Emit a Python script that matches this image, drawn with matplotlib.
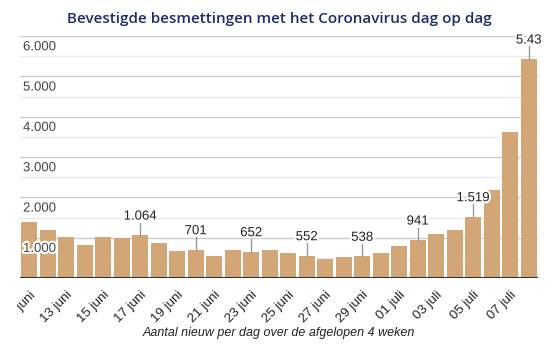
import matplotlib.pyplot as plt
import matplotlib.patheffects as pe
from matplotlib.transforms import Bbox, TransformedBbox, blended_transform_factory
import numpy as np

# dagelijkse nieuwe besmettingen, 11 juni t/m 08 juli
dagen = ['11 juni', '12 juni', '13 juni', '14 juni', '15 juni', '16 juni', '17 juni',
         '18 juni', '19 juni', '20 juni', '21 juni', '22 juni', '23 juni', '24 juni',
         '25 juni', '26 juni', '27 juni', '28 juni', '29 juni', '30 juni', '01 juli',
         '02 juli', '03 juli', '04 juli', '05 juli', '06 juli', '07 juli', '08 juli']
aantal = [1380, 1200, 1025, 826, 1025, 1000, 1064, 876, 680, 701, 553, 690, 652, 690,
          628, 552, 480, 530, 538, 628, 800, 941, 1100, 1200, 1519, 2190, 3630, 5430]
label_idx = [6, 9, 12, 15, 18, 21, 24, 27]
label_txt = ['1.064', '701', '652', '552', '538', '941', '1.519', '5.43']
y_ticks = [1000, 2000, 3000, 4000, 5000, 6000]
y_tick_txt = ['1.000', '2.000', '3.000', '4.000', '5.000', '6.000']

plt.rcParams['font.family'] = ['Liberation Sans', 'DejaVu Sans']

W, H = 558, 354
fig = plt.figure(figsize=(W / 100, H / 100), dpi=100)
ax = fig.add_axes([20 / W, 76 / H, 518 / W, 242 / H])

x = np.arange(len(aantal))
ax.bar(x, aantal, width=0.86, color='#d3a678', zorder=2)
ax.set_xlim(-0.5, len(aantal) - 0.5)
ax.set_ylim(0, 6000)

# rasterlijnen
for v in np.arange(500, 6001, 500):
    major = v % 1000 == 0
    ax.axhline(v, color='#cccccc' if major else '#ebebeb', lw=1, zorder=1)
ax.axhline(0, color='#333333', lw=1.5, zorder=3)

for s in ax.spines.values():
    s.set_visible(False)
ax.set_yticks([])

# y-labels binnen de grafiek, net onder de lijn
trans = blended_transform_factory(fig.transFigure, ax.transData)
halo = [pe.withStroke(linewidth=3, foreground='white')]
for v, t in zip(y_ticks, y_tick_txt):
    ax.text(23 / W, v - 130, t, transform=trans, fontsize=9.5, color='#444444',
            va='top', ha='left', zorder=4, path_effects=halo)

# annotaties met streepje
for i, t in zip(label_idx, label_txt):
    top = aantal[i]
    ax.plot([i, i], [top, top + 310], color='#999999', lw=1, zorder=3)
    ax.text(i, top + 310, t, ha='center', va='bottom', fontsize=9.5, color='#222222',
            zorder=4, path_effects=halo, clip_on=False)

ax.set_xticks(x[::2])
ax.set_xticklabels(dagen[::2], rotation=45, ha='right', va='top',
                   rotation_mode='anchor', fontsize=9.5, color='#222222')
ax.tick_params(axis='x', length=0, pad=8)
clip = TransformedBbox(Bbox([[17 / W, 0], [1, 1]]), fig.transFigure)
for lab in ax.get_xticklabels():
    lab.set_clip_on(True)
    lab.set_clip_box(clip)

fig.text(279 / W, 1 - 19 / H, 'Bevestigde besmettingen met het Coronavirus dag op dag',
         ha='center', va='center', fontsize=11, color='#1c2d6b',
         family=['Open Sans', 'DejaVu Sans'], weight='semibold')
fig.text(279 / W, 1 - 333 / H, 'Aantal nieuw per dag over de afgelopen 4 weken',
         ha='center', va='center', fontsize=9, style='italic', color='#222222')

fig.savefig('out.png', dpi=100)
